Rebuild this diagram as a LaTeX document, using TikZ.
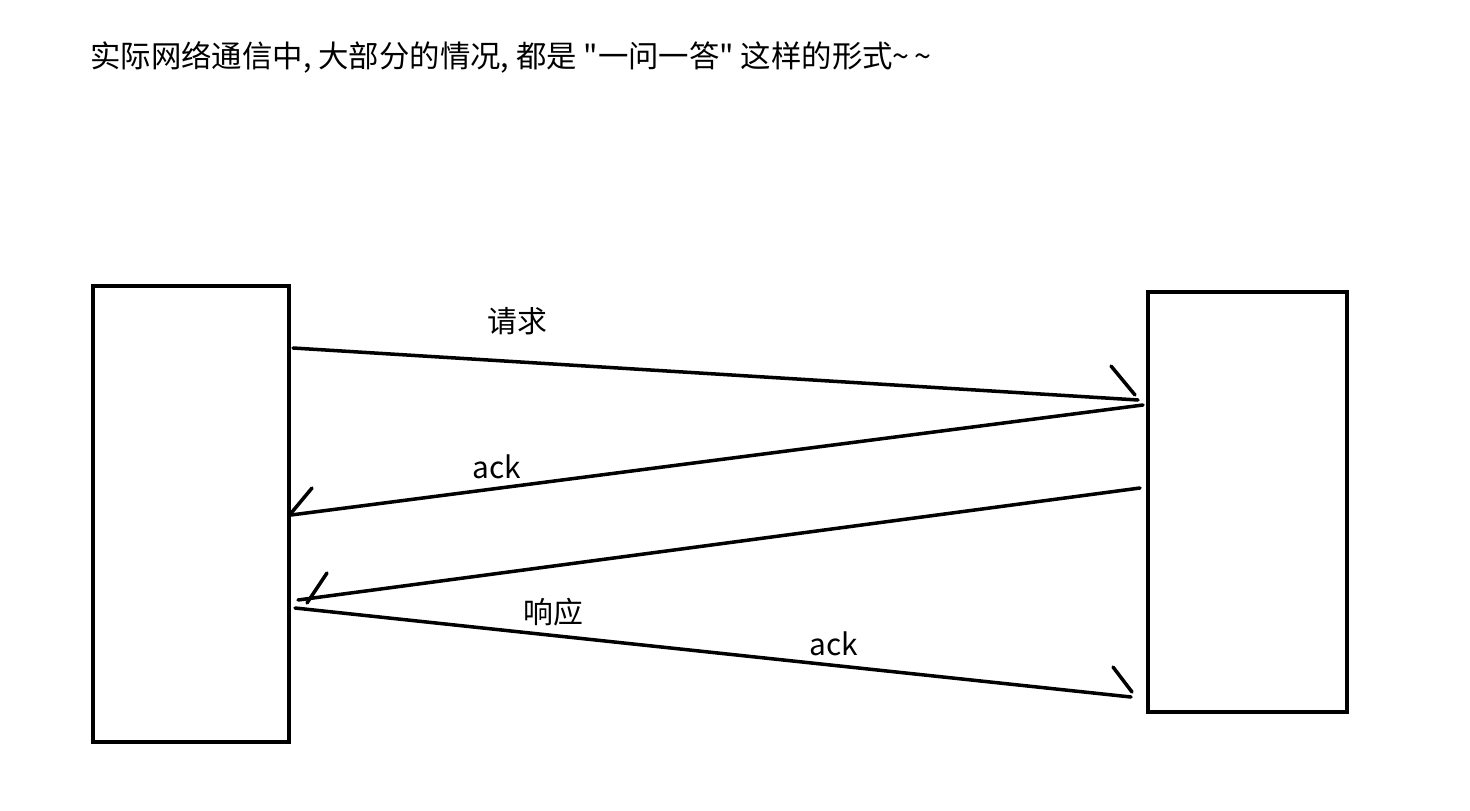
\documentclass[tikz,border=0pt]{standalone}
\usepackage{fontspec}
\newfontfamily\cjk{Noto Sans CJK SC}
\usepackage{tikz}
\usetikzlibrary{positioning}
\definecolor{ink}  {HTML}{000000}
\definecolor{paper}{HTML}{FFFFFF}
\tikzset{
  every node/.style={font=\cjk\fontsize{17}{20}\selectfont, text=ink},
  % --- nodes
  host/.style  = {draw=ink, line width=2.5pt, fill=paper, inner sep=0pt},
  lbl/.style   = {anchor=center, inner sep=1pt},
  % --- edges
  msg/.style   = {draw=ink, line width=2pt, line cap=round},
}

\begin{document}
\begin{tikzpicture}[x=0.2mm,y=-0.2mm]
  \useasboundingbox[fill=paper] (0,0) rectangle (1470,811);
  \node[anchor=west,inner sep=0pt,font=\cjk\fontsize{17.3}{20}\selectfont] (title) at (90,57)
    {实际网络通信中, 大部分的情况, 都是 "一问一答" 这样的形式\textasciitilde\,\textasciitilde};

  % --- the two ends
  \node[host, minimum width=39.2mm, minimum height=91.2mm] (client) at (191,514) {};
  \node[host, minimum width=39.8mm, minimum height=84mm]   (server) at (1247.5,502) {};

  % --- message end points
  \coordinate (req-s)  at (293,348);   \coordinate (req-e)  at (1138,400);
  \coordinate (ack1-s) at (1143,405);  \coordinate (ack1-e) at (291,515);
  \coordinate (resp-s) at (1140,488);  \coordinate (resp-e) at (298,600);
  \coordinate (ack2-s) at (295,608);   \coordinate (ack2-e) at (1131,697);

  % --- messages, each with its one-sided barb
  \draw[msg] (req-s)  -- (req-e);   \draw[msg] (req-e)  ++(-3,-5) -- ++(-24,-29);
  \draw[msg] (ack1-s) -- (ack1-e);  \draw[msg] (ack1-e) ++(1,-3)  -- ++(20,-24);
  \draw[msg] (resp-s) -- (resp-e);  \draw[msg] (resp-e) ++(9,3)   -- ++(20,-30);
  \draw[msg] (ack2-s) -- (ack2-e);  \draw[msg] (ack2-e) ++(1,-5)  -- ++(-19,-25);

  % --- labels
  \node[lbl] (req-lbl)  at (517,321) {请求};
  \node[lbl] (ack1-lbl) at (497,467) {ack};
  \node[lbl] (resp-lbl) at (553,612) {响应};
  \node[lbl] (ack2-lbl) at (834,644) {ack};
\end{tikzpicture}
\end{document}
